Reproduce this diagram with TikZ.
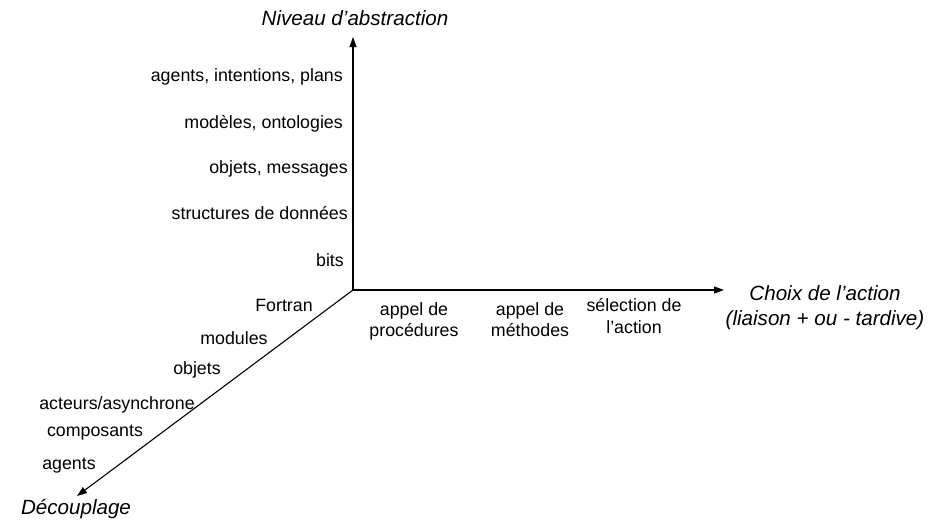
\documentclass[tikz,border=0pt]{standalone}
\usepackage{fontspec}
\setmainfont{Liberation Sans}
\usetikzlibrary{arrows.meta}
\begin{document}
\begin{tikzpicture}[x=1pt,y=-1pt,
  axis/.style={line width=1.1pt,-{Triangle[length=10pt,width=7pt]}},
  lbl/.style={inner sep=0pt,font=\fontsize{17.8}{20.5}\selectfont,align=center},
  ttl/.style={inner sep=0pt,font=\fontsize{20.6}{25}\selectfont\itshape,align=center}]
\useasboundingbox (0,0) rectangle (949,530);

% axes
\coordinate (O) at (353,290);
\coordinate (Ytop) at (353,37);
\coordinate (Xend) at (724,290);
\coordinate (Zend) at (77,496);
\draw[axis] (O) -- (Ytop);
\draw[axis] (O) -- (Xend);
\draw[axis] (O) -- (Zend);

% axis titles (base anchor of a two-line node is its last line)
\node[ttl,anchor=base] (ty) at (355,25) {Niveau d’abstraction};
\node[ttl,anchor=base] (tx) at (825,325) {Choix de l’action\\(liaison + ou - tardive)};
\node[ttl,anchor=base] (tz) at (76,514) {Découplage};

% vertical axis: abstraction levels
\node[lbl,anchor=base east] (y5) at (343,81) {agents, intentions, plans};
\node[lbl,anchor=base east] (y4) at (343,128) {modèles, ontologies};
\node[lbl,anchor=base east] (y3) at (348,173) {objets, messages};
\node[lbl,anchor=base east] (y2) at (348,219) {structures de données};
\node[lbl,anchor=base east] (y1) at (344,266) {bits};

% horizontal axis: action selection
\node[lbl,anchor=base] (x1) at (414,336) {appel de\\procédures};
\node[lbl,anchor=base] (x2) at (530,336) {appel de\\méthodes};
\node[lbl,anchor=base,font=\fontsize{17.8}{22}\selectfont] (x3) at (634,333) {sélection de\\l’action};

% diagonal axis: decoupling
\node[lbl,anchor=base] (z1) at (284,311) {Fortran};
\node[lbl,anchor=base] (z2) at (234,344) {modules};
\node[lbl,anchor=base] (z3) at (197,374) {objets};
\node[lbl,anchor=base] (z4) at (117,409) {acteurs/asynchrone};
\node[lbl,anchor=base] (z5) at (95,436) {composants};
\node[lbl,anchor=base] (z6) at (69,469) {agents};
\end{tikzpicture}
\end{document}
